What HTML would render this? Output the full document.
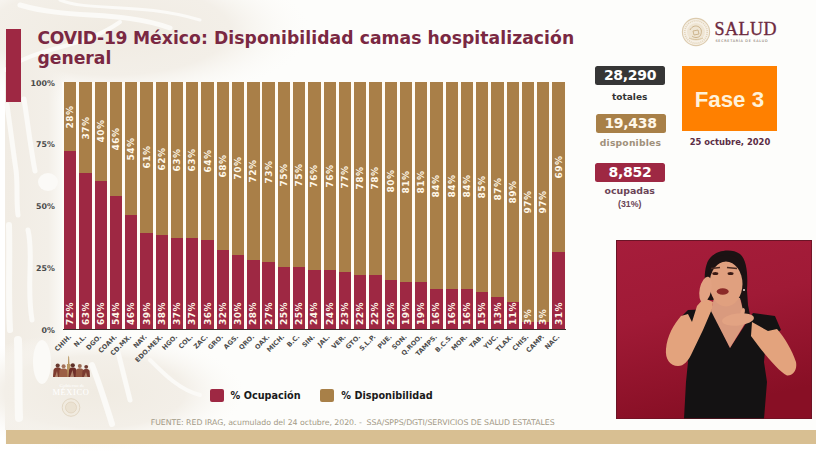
<!DOCTYPE html>
<html><head><meta charset="utf-8"><style>
*{margin:0;padding:0;box-sizing:border-box}
html,body{width:824px;height:465px;overflow:hidden;background:#fff}
body{position:relative;font-family:"DejaVu Sans","Liberation Sans",sans-serif}
.abs{position:absolute}
#slide{position:absolute;left:5px;top:0;width:811px;height:444px;background:#fdfdfb;overflow:hidden}
#redbar{position:absolute;left:6px;top:29px;width:14.5px;height:72.5px;background:#9e2843}
#title{position:absolute;left:37.5px;top:27.6px;font-weight:bold;font-size:17.2px;line-height:20.3px;color:#7a2842;letter-spacing:0px;white-space:nowrap}
.bar{position:absolute;top:82.0px;width:12.3px;height:247.0px;background:#a97f48}
.bar .r{position:absolute;left:0;right:0;bottom:0;background:#9e2843}
#plot{position:absolute;left:62px;top:82.0px;width:504px;height:247.0px;background:#fffcf5}
#axis{position:absolute;left:63px;top:328.6px;width:503px;height:1.2px;background:#3a2a2a}
.lbl,.lbo{position:absolute;width:0;height:0;color:#fff8ea;font-weight:bold;font-size:9px;letter-spacing:0.55px;white-space:nowrap}
.lbl span{position:absolute;left:0;top:0;line-height:1;transform:translate(-50%,-50%) rotate(-90deg)}
.lbo span{position:absolute;left:0;top:0;line-height:1;transform-origin:0 0;transform:rotate(-90deg) translateY(-50%)}
.xl{position:absolute;width:0;height:0;font-weight:bold;font-size:6.5px;color:#4d4d4d;white-space:nowrap}
.xl span{position:absolute;right:0;top:0;line-height:1;transform-origin:100% 0;transform:rotate(-45deg) translateY(-50%)}
.yl{position:absolute;right:769px;margin-top:0.7px;font-weight:bold;font-size:7.9px;color:#4a4a4a;transform:translateY(-50%);white-space:nowrap}
.box{position:absolute;border-radius:2.5px;color:#fff;font-weight:bold;text-align:center;white-space:nowrap}
.num{font-size:14px;letter-spacing:-0.3px}
.cap{position:absolute;font-weight:bold;text-align:center;white-space:nowrap;width:100px}
#fase{position:absolute;left:681.8px;top:65.8px;width:95.1px;height:65.5px;background:#ff8000;color:#fff2da;font-weight:bold;font-size:22.3px;text-align:center;line-height:68.5px;font-family:"Liberation Sans",sans-serif}
#fecha{position:absolute;left:680px;top:137px;width:100px;text-align:center;font-weight:bold;font-size:8.4px;color:#5b2d45;white-space:nowrap}
#salud{position:absolute;left:714.6px;top:19.2px;font-family:"Liberation Serif",serif;font-size:18px;line-height:20px;color:#6d2a3e;-webkit-text-stroke:0.35px #6d2a3e;letter-spacing:0.45px;white-space:nowrap}
#sec{position:absolute;left:715.4px;top:39px;font-size:3.4px;color:#6b5a50;letter-spacing:0.72px;white-space:nowrap}
.leg{position:absolute;top:388.7px;width:13.5px;height:13.2px;border-radius:2px}
.legt{position:absolute;top:389.5px;font-weight:bold;font-size:9.7px;color:#1a1a1a;white-space:nowrap}
#foot{position:absolute;left:150.7px;top:418px;font-size:7.8px;letter-spacing:-0.04px;color:#a39a86;white-space:nowrap}
#tanbar{position:absolute;left:6px;top:429.5px;width:810px;height:14px;background:#d8bf92}
#video{position:absolute;left:616px;top:240px;width:196.2px;height:179.4px;overflow:hidden}
</style></head><body>
<div id="slide"></div>
<svg class="abs" style="left:0;top:0" width="824" height="465" viewBox="0 0 824 465">
<defs>
<radialGradient id="g1" cx="0.5" cy="0.5" r="0.5"><stop offset="0" stop-color="#f0ebe2"/><stop offset="0.6" stop-color="#f3efe8"/><stop offset="1" stop-color="#fcfbf8" stop-opacity="0"/></radialGradient>
<linearGradient id="g2" x1="0" y1="0" x2="1" y2="0"><stop offset="0" stop-color="#f1ece4"/><stop offset="0.7" stop-color="#f3efe8"/><stop offset="1" stop-color="#f3efe8" stop-opacity="0"/></linearGradient>
</defs>
<ellipse cx="110" cy="30" rx="200" ry="75" fill="url(#g1)"/>
<rect x="5" y="60" width="62" height="370" fill="url(#g2)"/>
<ellipse cx="95" cy="392" rx="150" ry="60" fill="url(#g1)"/>
<g fill="none" stroke="#fbfaf7" stroke-linecap="round">
<path d="M20,5 C70,20 120,10 170,28" stroke-width="5"/>
<path d="M60,0 C90,12 140,2 200,20" stroke-width="3"/>
<path d="M5,70 C40,45 80,50 120,22" stroke-width="4"/>
<path d="M7,105 C10,125 13,150 16,170 C18,185 16,200 18,215" stroke-width="5"/>
<path d="M24,99 C28,125 31,150 35,171" stroke-width="5"/>
<path d="M9,225 C10,260 8,295 10,330" stroke-width="6"/>
<path d="M28,230 C34,255 26,285 32,320" stroke-width="5"/>
<path d="M18,340 C19,370 18,395 19,418" stroke-width="8"/>
<path d="M92,365 C100,385 106,405 112,424" stroke-width="6"/>
<path d="M118,352 C122,368 126,384 130,400" stroke-width="5"/>
<path d="M150,360 C165,375 180,390 200,395" stroke-width="4"/>
</g>
<ellipse cx="48" cy="182" rx="10" ry="9" fill="#fbfaf7"/>
<ellipse cx="42" cy="362" rx="9" ry="22" fill="#fbfaf7"/>
</svg>
<div id="redbar"></div>
<div id="title"><span id="t1"><span style="letter-spacing:-0.3px">COVID-19 </span><span style="letter-spacing:0.06px">México: Disponibilidad camas hospitalización</span></span><br><span id="t2">general</span></div>
<div id="plot"></div>
<div class="bar" style="left:64.10px"><div class="r" style="top:69.16px"></div></div>
<div class="bar" style="left:79.36px"><div class="r" style="top:91.39px"></div></div>
<div class="bar" style="left:94.62px"><div class="r" style="top:98.80px"></div></div>
<div class="bar" style="left:109.88px"><div class="r" style="top:113.62px"></div></div>
<div class="bar" style="left:125.14px"><div class="r" style="top:133.38px"></div></div>
<div class="bar" style="left:140.40px"><div class="r" style="top:150.67px"></div></div>
<div class="bar" style="left:155.66px"><div class="r" style="top:153.14px"></div></div>
<div class="bar" style="left:170.92px"><div class="r" style="top:155.61px"></div></div>
<div class="bar" style="left:186.18px"><div class="r" style="top:155.61px"></div></div>
<div class="bar" style="left:201.44px"><div class="r" style="top:158.08px"></div></div>
<div class="bar" style="left:216.70px"><div class="r" style="top:167.96px"></div></div>
<div class="bar" style="left:231.96px"><div class="r" style="top:172.90px"></div></div>
<div class="bar" style="left:247.22px"><div class="r" style="top:177.84px"></div></div>
<div class="bar" style="left:262.48px"><div class="r" style="top:180.31px"></div></div>
<div class="bar" style="left:277.74px"><div class="r" style="top:185.25px"></div></div>
<div class="bar" style="left:293.00px"><div class="r" style="top:185.25px"></div></div>
<div class="bar" style="left:308.26px"><div class="r" style="top:187.72px"></div></div>
<div class="bar" style="left:323.52px"><div class="r" style="top:187.72px"></div></div>
<div class="bar" style="left:338.78px"><div class="r" style="top:190.19px"></div></div>
<div class="bar" style="left:354.04px"><div class="r" style="top:192.66px"></div></div>
<div class="bar" style="left:369.30px"><div class="r" style="top:192.66px"></div></div>
<div class="bar" style="left:384.56px"><div class="r" style="top:197.60px"></div></div>
<div class="bar" style="left:399.82px"><div class="r" style="top:200.07px"></div></div>
<div class="bar" style="left:415.08px"><div class="r" style="top:200.07px"></div></div>
<div class="bar" style="left:430.34px"><div class="r" style="top:207.48px"></div></div>
<div class="bar" style="left:445.60px"><div class="r" style="top:207.48px"></div></div>
<div class="bar" style="left:460.86px"><div class="r" style="top:207.48px"></div></div>
<div class="bar" style="left:476.12px"><div class="r" style="top:209.95px"></div></div>
<div class="bar" style="left:491.38px"><div class="r" style="top:214.89px"></div></div>
<div class="bar" style="left:506.64px"><div class="r" style="top:219.83px"></div></div>
<div class="bar" style="left:521.90px"><div class="r" style="top:239.59px"></div></div>
<div class="bar" style="left:537.16px"><div class="r" style="top:239.59px"></div></div>
<div class="bar" style="left:552.42px"><div class="r" style="top:170.43px"></div></div>
<div class="lbl" style="left:70.25px;top:116.58px"><span>28%</span></div>
<div class="lbo" style="left:70.25px;top:325.3px"><span>72%</span></div>
<div class="xl" style="left:70.05px;top:336px"><span>CHIH.</span></div>
<div class="lbl" style="left:85.51px;top:127.69px"><span>37%</span></div>
<div class="lbo" style="left:85.51px;top:325.3px"><span>63%</span></div>
<div class="xl" style="left:85.31px;top:336px"><span>N.L.</span></div>
<div class="lbl" style="left:100.77px;top:131.40px"><span>40%</span></div>
<div class="lbo" style="left:100.77px;top:325.3px"><span>60%</span></div>
<div class="xl" style="left:100.57px;top:336px"><span>DGO.</span></div>
<div class="lbl" style="left:116.03px;top:138.81px"><span>46%</span></div>
<div class="lbo" style="left:116.03px;top:325.3px"><span>54%</span></div>
<div class="xl" style="left:115.83px;top:336px"><span>COAH.</span></div>
<div class="lbl" style="left:131.29px;top:148.69px"><span>54%</span></div>
<div class="lbo" style="left:131.29px;top:325.3px"><span>46%</span></div>
<div class="xl" style="left:131.09px;top:336px"><span>CD.MX.</span></div>
<div class="lbl" style="left:146.55px;top:157.33px"><span>61%</span></div>
<div class="lbo" style="left:146.55px;top:325.3px"><span>39%</span></div>
<div class="xl" style="left:146.35px;top:336px"><span>NAY.</span></div>
<div class="lbl" style="left:161.81px;top:158.57px"><span>62%</span></div>
<div class="lbo" style="left:161.81px;top:325.3px"><span>38%</span></div>
<div class="xl" style="left:161.61px;top:336px"><span>EDO.MEX.</span></div>
<div class="lbl" style="left:177.07px;top:159.81px"><span>63%</span></div>
<div class="lbo" style="left:177.07px;top:325.3px"><span>37%</span></div>
<div class="xl" style="left:176.87px;top:336px"><span>HGO.</span></div>
<div class="lbl" style="left:192.33px;top:159.81px"><span>63%</span></div>
<div class="lbo" style="left:192.33px;top:325.3px"><span>37%</span></div>
<div class="xl" style="left:192.13px;top:336px"><span>COL.</span></div>
<div class="lbl" style="left:207.59px;top:161.04px"><span>64%</span></div>
<div class="lbo" style="left:207.59px;top:325.3px"><span>36%</span></div>
<div class="xl" style="left:207.39px;top:336px"><span>ZAC.</span></div>
<div class="lbl" style="left:222.85px;top:165.98px"><span>68%</span></div>
<div class="lbo" style="left:222.85px;top:325.3px"><span>32%</span></div>
<div class="xl" style="left:222.65px;top:336px"><span>GRO.</span></div>
<div class="lbl" style="left:238.11px;top:168.45px"><span>70%</span></div>
<div class="lbo" style="left:238.11px;top:325.3px"><span>30%</span></div>
<div class="xl" style="left:237.91px;top:336px"><span>AGS.</span></div>
<div class="lbl" style="left:253.37px;top:170.92px"><span>72%</span></div>
<div class="lbo" style="left:253.37px;top:325.3px"><span>28%</span></div>
<div class="xl" style="left:253.17px;top:336px"><span>QRO.</span></div>
<div class="lbl" style="left:268.63px;top:172.16px"><span>73%</span></div>
<div class="lbo" style="left:268.63px;top:325.3px"><span>27%</span></div>
<div class="xl" style="left:268.43px;top:336px"><span>OAX.</span></div>
<div class="lbl" style="left:283.89px;top:174.62px"><span>75%</span></div>
<div class="lbo" style="left:283.89px;top:325.3px"><span>25%</span></div>
<div class="xl" style="left:283.69px;top:336px"><span>MICH.</span></div>
<div class="lbl" style="left:299.15px;top:174.62px"><span>75%</span></div>
<div class="lbo" style="left:299.15px;top:325.3px"><span>25%</span></div>
<div class="xl" style="left:298.95px;top:336px"><span>B.C.</span></div>
<div class="lbl" style="left:314.41px;top:175.86px"><span>76%</span></div>
<div class="lbo" style="left:314.41px;top:325.3px"><span>24%</span></div>
<div class="xl" style="left:314.21px;top:336px"><span>SIN.</span></div>
<div class="lbl" style="left:329.67px;top:175.86px"><span>76%</span></div>
<div class="lbo" style="left:329.67px;top:325.3px"><span>24%</span></div>
<div class="xl" style="left:329.47px;top:336px"><span>JAL.</span></div>
<div class="lbl" style="left:344.93px;top:177.09px"><span>77%</span></div>
<div class="lbo" style="left:344.93px;top:325.3px"><span>23%</span></div>
<div class="xl" style="left:344.73px;top:336px"><span>VER.</span></div>
<div class="lbl" style="left:360.19px;top:178.33px"><span>78%</span></div>
<div class="lbo" style="left:360.19px;top:325.3px"><span>22%</span></div>
<div class="xl" style="left:359.99px;top:336px"><span>GTO.</span></div>
<div class="lbl" style="left:375.45px;top:178.33px"><span>78%</span></div>
<div class="lbo" style="left:375.45px;top:325.3px"><span>22%</span></div>
<div class="xl" style="left:375.25px;top:336px"><span>S.L.P.</span></div>
<div class="lbl" style="left:390.71px;top:180.80px"><span>80%</span></div>
<div class="lbo" style="left:390.71px;top:325.3px"><span>20%</span></div>
<div class="xl" style="left:390.51px;top:336px"><span>PUE.</span></div>
<div class="lbl" style="left:405.97px;top:182.03px"><span>81%</span></div>
<div class="lbo" style="left:405.97px;top:325.3px"><span>19%</span></div>
<div class="xl" style="left:405.77px;top:336px"><span>SON.</span></div>
<div class="lbl" style="left:421.23px;top:182.03px"><span>81%</span></div>
<div class="lbo" style="left:421.23px;top:325.3px"><span>19%</span></div>
<div class="xl" style="left:421.03px;top:336px"><span>Q.ROO.</span></div>
<div class="lbl" style="left:436.49px;top:185.74px"><span>84%</span></div>
<div class="lbo" style="left:436.49px;top:325.3px"><span>16%</span></div>
<div class="xl" style="left:436.29px;top:336px"><span>TAMPS.</span></div>
<div class="lbl" style="left:451.75px;top:185.74px"><span>84%</span></div>
<div class="lbo" style="left:451.75px;top:325.3px"><span>16%</span></div>
<div class="xl" style="left:451.55px;top:336px"><span>B.C.S.</span></div>
<div class="lbl" style="left:467.01px;top:185.74px"><span>84%</span></div>
<div class="lbo" style="left:467.01px;top:325.3px"><span>16%</span></div>
<div class="xl" style="left:466.81px;top:336px"><span>MOR.</span></div>
<div class="lbl" style="left:482.27px;top:186.97px"><span>85%</span></div>
<div class="lbo" style="left:482.27px;top:325.3px"><span>15%</span></div>
<div class="xl" style="left:482.07px;top:336px"><span>TAB.</span></div>
<div class="lbl" style="left:497.53px;top:189.44px"><span>87%</span></div>
<div class="lbo" style="left:497.53px;top:325.3px"><span>13%</span></div>
<div class="xl" style="left:497.33px;top:336px"><span>YUC.</span></div>
<div class="lbl" style="left:512.79px;top:191.92px"><span>89%</span></div>
<div class="lbo" style="left:512.79px;top:325.3px"><span>11%</span></div>
<div class="xl" style="left:512.59px;top:336px"><span>TLAX.</span></div>
<div class="lbl" style="left:528.05px;top:201.80px"><span>97%</span></div>
<div class="lbo" style="left:528.05px;top:325.3px"><span>3%</span></div>
<div class="xl" style="left:527.85px;top:336px"><span>CHIS.</span></div>
<div class="lbl" style="left:543.31px;top:201.80px"><span>97%</span></div>
<div class="lbo" style="left:543.31px;top:325.3px"><span>3%</span></div>
<div class="xl" style="left:543.11px;top:336px"><span>CAMP.</span></div>
<div class="lbl" style="left:558.57px;top:167.22px"><span>69%</span></div>
<div class="lbo" style="left:558.57px;top:325.3px"><span>31%</span></div>
<div class="xl" style="left:558.37px;top:336px"><span>NAC.</span></div>
<div id="axis"></div>
<div class="yl" style="top:82.00px">100%</div><div class="yl" style="top:143.75px">75%</div><div class="yl" style="top:205.50px">50%</div><div class="yl" style="top:267.25px">25%</div><div class="yl" style="top:329.00px">0%</div>
<div class="box num" style="left:595px;top:66px;width:70px;height:19px;line-height:19px;background:#363636">28,290</div>
<div class="cap" style="left:579.7px;top:91.5px;font-size:9px;color:#333">totales</div>
<div class="box num" style="left:595.5px;top:114px;width:70px;height:19.4px;line-height:19.4px;background:#a88048;color:#fff8ea">19,438</div>
<div class="cap" style="left:580.5px;top:136.6px;font-size:9.2px;letter-spacing:0.2px;color:#a0907a">disponibles</div>
<div class="box num" style="left:595px;top:162.7px;width:70px;height:19px;line-height:19px;background:#9e2843">8,852</div>
<div class="cap" style="left:579.7px;top:185.3px;font-size:9.4px;color:#6a4456">ocupadas</div>
<div class="cap" style="left:579.7px;top:198.9px;font-size:8.8px;font-weight:bold;font-family:'Liberation Sans',sans-serif;color:#6a4456">(31%)</div>
<div id="fase">Fase 3</div>
<div id="fecha">25 octubre, 2020</div>
<svg class="abs" style="left:680.6px;top:16.8px" width="30" height="30" viewBox="0 0 30 30"><circle cx="15" cy="15" r="13.6" fill="#f6f0e6" stroke="#dccbae" stroke-width="1.1"/><circle cx="15" cy="15" r="11.2" fill="none" stroke="#e2d3b8" stroke-width="1.6" stroke-dasharray="1 1"/><circle cx="15" cy="15" r="9" fill="#efe5d3"/><path d="M9,13 C11,9 15,8 18,10 C21,12 21,16 19,19 C17,21 13,21 11,19 M12,14 L17,13 L18,17 L13,18 Z" fill="none" stroke="#cdb58e" stroke-width="1"/><path d="M8,21 C12,23 18,23 22,21" fill="none" stroke="#d4be98" stroke-width="0.9"/></svg>
<div id="salud">SALUD</div>
<div id="sec">SECRETARÍA DE SALUD</div>
<div class="leg" style="left:210.2px;background:#9e2843"></div>
<div class="legt" style="left:230.6px">% Ocupación</div>
<div class="leg" style="left:320.3px;background:#a88048"></div>
<div class="legt" style="left:341.3px">% Disponibilidad</div>
<div id="foot">FUENTE: RED IRAG, acumulado del 24 octubre, 2020. -&nbsp; SSA/SPPS/DGTI/SERVICIOS DE SALUD ESTATALES</div>
<svg class="abs" style="left:50px;top:352px" width="44" height="68" viewBox="50 352 44 68">
<path d="M68,366 L68.3,357 L68.7,355.5 L69.1,357 L69.5,366 Z" fill="#b08a50"/>
<rect x="67" y="364" width="3.5" height="13" fill="#b99560"/>
<g>
<path d="M53,377 L53.5,370 C54,368 56,367.5 57.7,367.5 C59.5,367.5 61,368 61.5,370 L62,377 Z" fill="#7d3a2e"/>
<path d="M59,377 L59.5,370.5 C60,369 62,368.5 63.6,368.5 C65.5,368.5 67,369 67.3,370.5 L67.5,377 Z" fill="#9c5f45"/>
<path d="M68.5,377 L69,370 C69.5,368 71,367.5 72.8,367.5 C74.6,367.5 76,368 76.5,370 L77,377 Z" fill="#6e2e28"/>
<path d="M75.5,377 L76,370.5 C76.5,369 78,368.3 79.8,368.3 C81.6,368.3 83,369 83.4,370.5 L84,377 Z" fill="#92553f"/>
<path d="M82,377 L82.5,371 C83,369.5 84.5,369 86.2,369 C88,369 89.3,369.5 89.6,371 L90,377 Z" fill="#7a3b30"/>
<path d="M55,377 L57,371 L58,377 Z M70,377 L72.5,370 L74,377 Z M84,377 L86,372 L87.5,377 Z" fill="#c9a486" opacity="0.7"/>
</g>
<g>
<circle cx="57.7" cy="365.6" r="2.1" fill="#6a3a30"/><circle cx="63.6" cy="366.3" r="2" fill="#a27058"/><circle cx="72.8" cy="365.3" r="2.1" fill="#5e3028"/><circle cx="79.8" cy="366" r="2" fill="#9a6a52"/><circle cx="86.2" cy="366.8" r="1.9" fill="#6e3a30"/>
</g>
<text x="72" y="386.5" font-family="Liberation Serif,serif" font-size="5" fill="#ffffff" text-anchor="middle">Gobierno de</text>
<text x="71" y="395" font-family="Liberation Serif,serif" font-size="8.5" fill="#ffffff" text-anchor="middle" letter-spacing="0.6">MÉXICO</text>
<circle cx="71" cy="407.5" r="8.8" fill="#f1ebe0" stroke="#ddd0bb" stroke-width="0.8"/>
<circle cx="71" cy="407.5" r="5.5" fill="#ebe2d2" stroke="#dccdb5" stroke-width="0.6"/>
</svg>
<div id="tanbar"></div>
<svg id="video" viewBox="616 240 196.2 179.4" width="196.2" height="179.4">
<defs><linearGradient id="vg" x1="0" y1="0" x2="0.25" y2="1"><stop offset="0" stop-color="#a61d3b"/><stop offset="0.45" stop-color="#a01a36"/><stop offset="1" stop-color="#880f25"/></linearGradient></defs>
<rect x="616" y="240" width="196.2" height="179.4" fill="url(#vg)"/>
<path d="M707,300 C703,280 704,262 712,256 C718,250 732,248 740,254 C747,260 748,275 747,290 L748,305 L751,320 L744,323 L741,300 Z" fill="#1c1213"/>
<path d="M680,318 L688,310 L711,309 L730,348 L745,325 L753,313 L775,316 L781,330 L766,340 L764,362 L767,382 L764,419 L684,419 L686,382 L688,362 L683,330 Z" fill="#141213"/>
<path d="M714,298 L740,298 L746,322 L730,348 L711,311 Z" fill="#d99a7e"/>
<ellipse cx="726" cy="284" rx="16.5" ry="22.5" fill="#e0a07f"/>
<path d="M708,278 C708,262 716,255 726,255 C737,255 745,263 744,279 C741,268 734,261 726,261 C718,261 711,268 708,278 Z" fill="#1c1213"/>
<path d="M711,268.5 L720,267.5" stroke="#4a2a22" stroke-width="1.3"/>
<path d="M727,267.5 L737,268.5" stroke="#4a2a22" stroke-width="1.3"/>
<ellipse cx="715.3" cy="273.6" rx="3" ry="1.5" fill="#3a1a14"/>
<ellipse cx="730.6" cy="273.6" rx="3" ry="1.5" fill="#3a1a14"/>
<ellipse cx="722.7" cy="291.5" rx="6" ry="3.2" fill="#8b2a28"/>
<circle cx="744" cy="290" r="1" fill="#e8e0d8"/>
<path d="M681,316 C674,324 667,336 666,349 C665,359 670,366 678,366 C684,366 688,361 691,355 L703,330 L712,309 L713,302 L704,298 L697,306 L692,322 L688,314 Z" fill="#e3a37d"/>
<ellipse cx="705.5" cy="289.5" rx="5.8" ry="13" fill="#e2a282" transform="rotate(12 705.5 289.5)"/>
<path d="M752,322 L768,331 L777,329 C785,338 792,350 796,362 C797.5,370 793,376 787,375.5 C780,372 770,360 760,348 L751,336 Z" fill="#e3a37d"/>
<ellipse cx="738" cy="319.5" rx="16" ry="6" fill="#e2a383" transform="rotate(-6 738 319.5)"/>
<ellipse cx="742.5" cy="313" rx="2" ry="5" fill="#e2a383" transform="rotate(15 742.5 313)"/>
<rect x="616.5" y="240.5" width="195.2" height="178.4" fill="none" stroke="#6a1426" stroke-width="1"/>
</svg>
</body></html>
